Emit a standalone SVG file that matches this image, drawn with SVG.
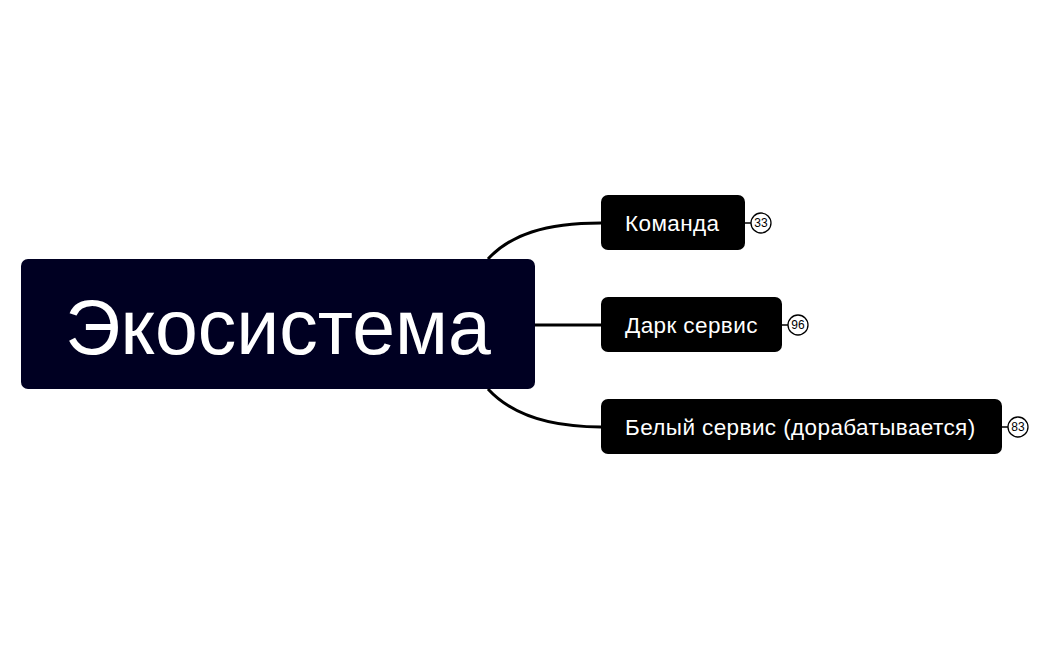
<svg xmlns="http://www.w3.org/2000/svg" width="1050" height="650" viewBox="0 0 1050 650">
<style>
text{font-family:"Liberation Sans",Arial,sans-serif}
.n{fill:#000}
.t{fill:#fff;font-size:22.5px;letter-spacing:0.4px}
.c{fill:none;stroke:#000;stroke-width:3}
.b{fill:#fff;stroke:#000;stroke-width:1.3}
.bt{font-size:12px;fill:#000;text-anchor:middle}
</style>
<rect width="1050" height="650" fill="#fff"/>
<g id="connectors">
<path class="c" d="M488,259 C510,235 545,223 601,223"/>
<path class="c" d="M535,325 H601"/>
<path class="c" d="M488,389 C510,413 545,427 601,427"/>
<path d="M745,223 H751 M782,325 H788 M1002,427 H1008" stroke="#000" stroke-width="1.5"/>
</g>
<g id="root"><rect x="21" y="259" width="514" height="130" rx="7" fill="#000022"/>
<text x="278" y="354" font-size="77" fill="#fff" text-anchor="middle">Экосистема</text></g>
<g id="n1"><rect class="n" x="601" y="195" width="144" height="55" rx="7"/><text class="t" x="625" y="231">Команда</text>
<circle class="b" cx="761" cy="223" r="10"/><text class="bt" x="761" y="227">33</text></g>
<g id="n2"><rect class="n" x="601" y="297" width="181" height="55" rx="7"/><text class="t" x="625" y="333">Дарк сервис</text>
<circle class="b" cx="798" cy="325" r="10"/><text class="bt" x="798" y="329">96</text></g>
<g id="n3"><rect class="n" x="601" y="399" width="401" height="55" rx="7"/><text class="t" x="625" y="435">Белый сервис (дорабатывается)</text>
<circle class="b" cx="1018" cy="427" r="10"/><text class="bt" x="1018" y="431">83</text></g>
</svg>
